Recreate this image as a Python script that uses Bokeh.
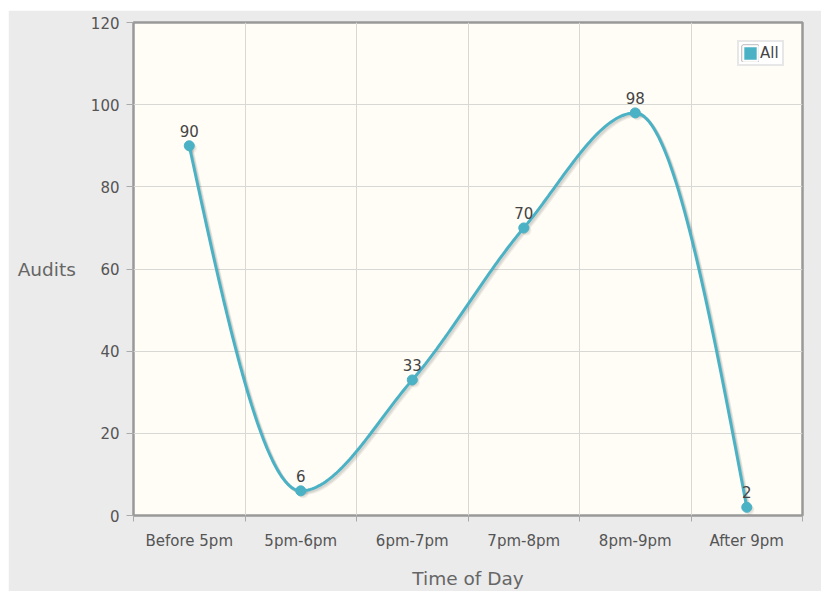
import numpy as np
from bokeh.plotting import figure
from bokeh.models import FixedTicker, ColumnDataSource, Spacer, Range1d, Legend, LegendItem
from bokeh.layouts import column, row
from bokeh.core.properties import value
from bokeh.embed import file_html
from bokeh.resources import INLINE

categories = ["Before 5pm", "5pm-6pm", "6pm-7pm", "7pm-8pm", "8pm-9pm", "After 9pm"]
audits = [90, 6, 33, 70, 98, 2]
y_ticks = [0, 20, 40, 60, 80, 100, 120]

FONT = "DejaVu Sans"
COLOR = "#4bb2c5"

xs = np.arange(len(categories), dtype=float)
ys = np.array(audits, dtype=float)

# constrained cubic spline (like jqPlot's smooth rendering)
n = len(xs)
d = np.zeros(n)
sl = np.diff(ys) / np.diff(xs)
for i in range(1, n - 1):
    if sl[i - 1] * sl[i] > 0:
        d[i] = 2.0 / (1.0 / sl[i] + 1.0 / sl[i - 1])
    else:
        d[i] = 0.0
d[0] = 1.5 * sl[0] - d[1] / 2
d[-1] = 1.5 * sl[-1] - d[-2] / 2
cx, cy = [], []
for i in range(n - 1):
    h = xs[i + 1] - xs[i]
    t = np.linspace(0, 1, 60)
    h00 = 2 * t**3 - 3 * t**2 + 1
    h10 = t**3 - 2 * t**2 + t
    h01 = -2 * t**3 + 3 * t**2
    h11 = t**3 - t**2
    cy.extend(h00 * ys[i] + h10 * h * d[i] + h01 * ys[i + 1] + h11 * h * d[i + 1])
    cx.extend(xs[i] + t * h)
cx = np.array(cx)
cy = np.array(cy)

FW, FH = 669, 493
p = figure(frame_width=FW, frame_height=FH, x_range=(-0.5, len(categories) - 0.5), y_range=(0, 120),
           output_backend="svg", toolbar_location=None,
           min_border_left=125, min_border_right=19, min_border_top=12, min_border_bottom=76,
           background_fill_color="#fffdf6", border_fill_color="#ebebeb")
# off-screen range used only so the legend swatch has data to draw from
p.extra_y_ranges = {"offscreen": Range1d(1000, 1120)}

p.outline_line_color = "#999999"
p.outline_line_width = 2.5

bounds = list(np.arange(-0.5, len(categories), 1.0))
p.xaxis.ticker = FixedTicker(ticks=list(xs), minor_ticks=bounds)
p.xaxis.major_label_overrides = {i: c for i, c in enumerate(categories)}
p.xgrid.ticker = FixedTicker(ticks=bounds)
p.yaxis.ticker = FixedTicker(ticks=y_ticks)
for g in (p.xgrid, p.ygrid):
    g.grid_line_color = "#d8d8d4"
    g.grid_line_width = 1

for ax in (p.xaxis, p.yaxis):
    ax.axis_line_color = None
    ax.major_label_text_font = FONT
    ax.major_label_text_font_size = "15px"
    ax.major_label_text_color = "#555555"
    ax.axis_label_text_font = FONT
    ax.axis_label_text_font_size = "18.5px"
    ax.axis_label_text_font_style = "normal"
    ax.axis_label_text_color = "#666666"

p.xaxis.major_tick_line_color = None
p.xaxis.major_tick_out = 6
p.xaxis.major_tick_in = 0
p.xaxis.minor_tick_line_color = "#aaaaaa"
p.xaxis.minor_tick_out = 6
p.xaxis.minor_tick_in = 0
p.xaxis.major_label_standoff = 10
p.xaxis.axis_label = "Time of Day"
p.xaxis.axis_label_standoff = 15

p.yaxis.major_tick_line_color = "#aaaaaa"
p.yaxis.major_tick_out = 7
p.yaxis.major_tick_in = 0
p.yaxis.minor_tick_line_color = None
p.yaxis.major_label_standoff = 7
p.yaxis.axis_label = "Audits"
p.yaxis.axis_label_orientation = "horizontal"
p.yaxis.axis_label_standoff = 12

# shadow
px_x = (len(categories)) / FW
px_y = 120.0 / FH
for k in (1, 2, 3):
    p.line(cx + k * 0.9 * px_x, cy - k * 0.9 * px_y, line_color="#000000", line_alpha=0.07, line_width=3)
    p.scatter(xs + k * 0.9 * px_x, ys - k * 0.9 * px_y, size=10, fill_color="#000000", fill_alpha=0.05,
              line_color=None)

p.line(cx, cy, line_color=COLOR, line_width=3)
p.scatter(xs, ys, size=10, fill_color=COLOR, line_color=COLOR)

src = ColumnDataSource(dict(x=xs, y=ys, t=[str(v) for v in audits]))
p.text(x="x", y="y", text="t", source=src, text_align="center", text_baseline="alphabetic",
       y_offset=-15, text_font=value(FONT), text_font_size="15px", text_color="#444444")

# legend swatch renderers (drawn on the off-screen range, so only the legend shows them)
leg_src = ColumnDataSource(dict(l=xs - 0.3, r=xs + 0.3, t=ys, b=ys * 0))
sw_border = p.quad(left="l", right="r", top="t", bottom="b", source=leg_src, y_range_name="offscreen",
                   fill_color=None, line_color="#c8c8c8", line_width=5)
sw_fill = p.quad(left="l", right="r", top="t", bottom="b", source=leg_src, y_range_name="offscreen",
                 fill_color=COLOR, line_color="#ffffff", line_width=2)

legend = Legend(items=[LegendItem(label="All", renderers=[sw_border, sw_fill])],
                location="top_right", margin=18, padding=2, spacing=0,
                glyph_width=18, glyph_height=18, label_standoff=1,
                label_text_font=FONT, label_text_font_size="15px", label_text_color="#444444",
                label_height=18, border_line_color="#d0d0d0", border_line_width=2,
                background_fill_color="white", background_fill_alpha=1.0)
p.add_layout(legend)

layout = column(Spacer(height=10), row(Spacer(width=8), p))
open("out.html", "w").write(file_html(layout, INLINE))
